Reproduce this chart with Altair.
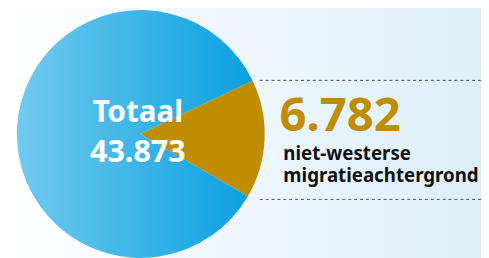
import altair as alt
import pandas as pd
import math

# Data
categories = ["niet-westerse migratieachtergrond", "overig"]
values = [6782, 43873 - 6782]
orders = [0, 1]
total = 43873

df = pd.DataFrame({"cat": categories, "value": values, "order": orders})

W, H = 481, 250
CX, CY, R = 135, 126, 126
start = math.radians(64.5)

blue_grad = alt.LinearGradient(
    gradient="linear", x1=0, y1=0, x2=1, y2=0,
    stops=[alt.GradientStop(color="#72CAEF", offset=0),
           alt.GradientStop(color="#0AA0E0", offset=1)])
bg_grad = alt.LinearGradient(
    gradient="linear", x1=0, y1=0, x2=1, y2=0,
    stops=[alt.GradientStop(color="#FFFFFF", offset=0),
           alt.GradientStop(color="#DCEEF9", offset=1)])

base = alt.Chart(df).transform_stack(
    stack="value", groupby=[], as_=["v0", "v1"],
    sort=[alt.SortField("order", order="ascending")])

theta_scale = alt.Scale(domain=[0, total], range=[start, start + 2 * math.pi])

bg = alt.Chart(pd.DataFrame({"a": [0]})).mark_rect(fill=bg_grad).encode(
    x=alt.value(-8), x2=alt.value(W + 8), y=alt.value(-8), y2=alt.value(H + 8))

blue = base.transform_filter(alt.datum.cat == "overig").mark_arc(
    fill=blue_grad, outerRadius=R).encode(
    theta=alt.Theta("v0:Q", scale=theta_scale),
    theta2="v1:Q",
    x=alt.value(CX), y=alt.value(CY))

gold = base.transform_filter(alt.datum.cat != "overig").mark_arc(
    fill="#C08C00", outerRadius=R).encode(
    theta=alt.Theta("v0:Q", scale=theta_scale),
    theta2="v1:Q",
    x=alt.value(CX), y=alt.value(CY))

rule_data = pd.DataFrame({"a": [0]})
rule_top = alt.Chart(rule_data).mark_rule(
    strokeDash=[3, 3], color="#4A4A4A", strokeWidth=1).encode(
    x=alt.value(256), x2=alt.value(W + 8), y=alt.value(71.5))
rule_bot = alt.Chart(rule_data).mark_rule(
    strokeDash=[3, 3], color="#4A4A4A", strokeWidth=1).encode(
    x=alt.value(256), x2=alt.value(W + 8), y=alt.value(192.5))

font = "Noto Sans"

def txt(text, x, y, size, color, align="left"):
    return alt.Chart(pd.DataFrame({"t": [text]})).mark_text(
        font=font, fontWeight="bold", fontSize=size, color=color,
        align=align, baseline="alphabetic").encode(
        text="t:N", x=alt.value(x), y=alt.value(y))

t1 = txt("Totaal", 132, 114, 30, "#FFFFFF", "center")
t2 = txt(f"{total:,}".replace(",", "."), 132, 154, 31, "#FFFFFF", "center")
t3 = txt(f"{values[0]:,}".replace(",", "."), 276, 123, 48, "#C08C00")
t4 = txt("niet-westerse", 280, 152, 19, "#111111")
t5 = txt("migratieachtergrond", 280, 175, 19, "#111111")

chart = alt.layer(bg, blue, gold, rule_top, rule_bot, t1, t2, t3, t4, t5).properties(
    width=W, height=H, autosize=alt.AutoSizeParams(type="none"), padding=0
).configure_view(stroke=None)

chart.save("out.html", embed_options={"renderer": "svg", "actions": False})
